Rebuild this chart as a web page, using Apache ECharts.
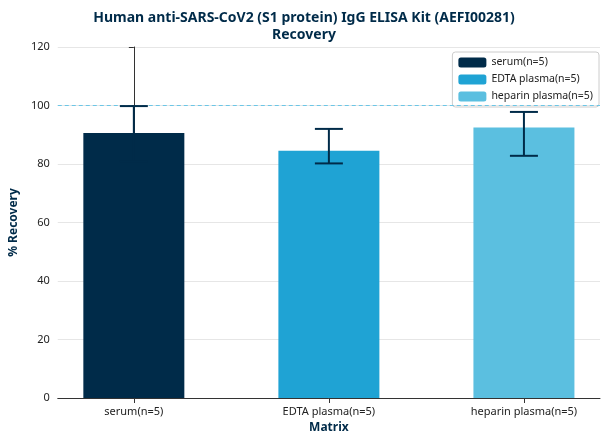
<!DOCTYPE html>
<html>
<head>
<meta charset="utf-8" />
<title>Recovery</title>
<style>
  html, body { margin: 0; padding: 0; background: #fff; }
  #chart { width: 608px; height: 444px; }
</style>
</head>
<body>
<div id="chart"></div>
<script src="https://cdn.jsdelivr.net/npm/echarts@6/dist/echarts.min.js"></script>
<script>
  var categories = ['serum(n=5)', 'EDTA plasma(n=5)', 'heparin plasma(n=5)'];
  var recovery = [90.6, 84.5, 92.5];
  var errLow = [81, 80.2, 82.8];
  var errHigh = [99.8, 92, 97.8];
  var colors = ['#002b49', '#1fa3d4', '#5bbfe0'];
  var yTicks = { min: 0, max: 120, interval: 20 };

  var _font = 'Noto Sans';
  var _dark = '#002b49';

  var chart = echarts.init(document.getElementById('chart'));

  // one bar series per category so the legend shows each matrix
  var barSeries = categories.map(function (name, i) {
    return {
      name: name,
      type: 'bar',
      barWidth: 101,
      barGap: '-100%',
      itemStyle: { color: colors[i] },
      data: [[i, recovery[i]]],
      markLine: i === 0 ? {
        silent: true,
        symbol: 'none',
        label: { show: false },
        lineStyle: { color: '#6cc6e6', type: [4, 3], width: 1 },
        data: [{ yAxis: 100 }]
      } : undefined
    };
  });

  var errData = categories.map(function (c, i) { return [i, errLow[i], errHigh[i]]; });

  var errSeries = {
    type: 'custom',
    z: 10,
    data: errData,
    renderItem: function (params, api) {
      var lo = api.coord([api.value(0), api.value(1)]);
      var hi = api.coord([api.value(0), api.value(2)]);
      var w = 14;
      var st = { stroke: _dark, lineWidth: 2 };
      return {
        type: 'group',
        children: [
          { type: 'line', shape: { x1: hi[0], y1: hi[1], x2: lo[0], y2: lo[1] }, style: st },
          { type: 'line', shape: { x1: hi[0] - w, y1: hi[1], x2: hi[0] + w, y2: hi[1] }, style: st },
          { type: 'line', shape: { x1: lo[0] - w, y1: lo[1], x2: lo[0] + w, y2: lo[1] }, style: st }
        ]
      };
    }
  };

  var option = {
    animation: false,
    textStyle: { fontFamily: _font },
    title: {
      text: 'Human anti-SARS-CoV2 (S1 protein) IgG ELISA Kit (AEFI00281)\nRecovery',
      left: 'center',
      top: 5,
      textStyle: { fontSize: 14, fontWeight: 'bold', color: _dark, lineHeight: 17 }
    },
    legend: {
      data: categories,
      orient: 'vertical',
      right: 9,
      top: 52,
      itemWidth: 28,
      itemHeight: 10,
      itemGap: 6,
      padding: [5, 6],
      borderColor: '#ccc',
      borderWidth: 1,
      borderRadius: 3,
      textStyle: { fontSize: 10.5, color: '#222' }
    },
    grid: { left: 52, right: 8, top: 47, bottom: 46 },
    xAxis: {
      type: 'value',
      min: -0.39,
      max: 2.39,
      name: 'Matrix',
      nameLocation: 'middle',
      nameGap: 24,
      nameTextStyle: { fontSize: 12, fontWeight: 'bold', color: _dark },
      axisLine: { lineStyle: { color: '#333' } },
      axisTick: { show: true, customValues: [0, 1, 2], lineStyle: { color: '#333' } },
      axisLabel: {
        customValues: [0, 1, 2],
        fontSize: 11, color: '#222',
        formatter: function (v) { return categories[Math.round(v)]; }
      },
      splitLine: { show: false }
    },
    yAxis: {
      type: 'value',
      min: yTicks.min, max: yTicks.max, interval: yTicks.interval,
      name: '% Recovery',
      nameLocation: 'middle',
      nameGap: 34,
      nameTextStyle: { fontSize: 12, fontWeight: 'bold', color: _dark },
      axisLine: { show: true, lineStyle: { color: '#333' } },
      axisTick: { show: true, lineStyle: { color: '#333' } },
      axisLabel: { fontSize: 11, color: '#222' },
      splitLine: { lineStyle: { color: '#e6e6e6' } }
    },
    series: barSeries.concat([errSeries])
  };

  chart.setOption(option);
</script>
</body>
</html>
